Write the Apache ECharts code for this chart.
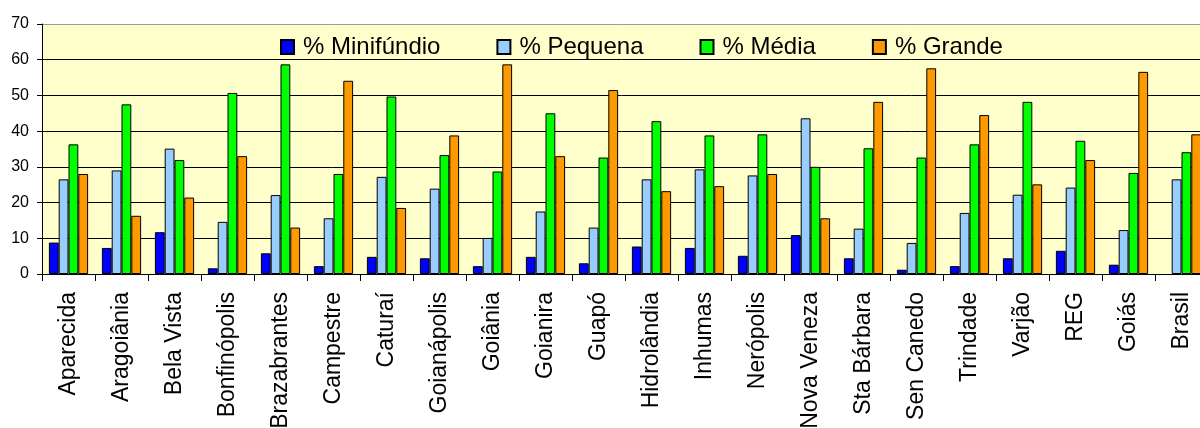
<!DOCTYPE html>
<html>
<head>
<meta charset="utf-8">
<script src="https://cdn.jsdelivr.net/npm/echarts@6/dist/echarts.min.js"></script>
<style>
html,body{margin:0;padding:0;background:#fff;}
#chart{width:1200px;height:428px;}
</style>
</head>
<body>
<div id="chart"></div>
<script>
const categories = ["Aparecida","Aragoiânia","Bela Vista","Bonfinópolis","Brazabrantes","Campestre","Caturaí","Goianápolis","Goiânia","Goianira","Guapó","Hidrolândia","Inhumas","Nerópolis","Nova Veneza","Sta Bárbara","Sen Canedo","Trindade","Varjão","REG","Goiás","Brasil"];
const minifundio = [8.8, 7.3, 11.7, 1.6, 5.8, 2.2, 4.8, 4.4, 2.2, 4.8, 3.0, 7.7, 7.3, 5.1, 10.9, 4.4, 1.2, 2.2, 4.4, 6.5, 2.6, null];
const pequena    = [26.5, 29.0, 35.1, 14.6, 22.1, 15.6, 27.2, 23.9, 10.1, 17.5, 13.0, 26.5, 29.3, 27.6, 43.6, 12.7, 8.7, 17.1, 22.2, 24.2, 12.3, 26.5];
const media      = [36.3, 47.5, 31.9, 50.7, 58.7, 28.0, 49.7, 33.3, 28.7, 45.0, 32.6, 42.8, 38.8, 39.1, 30.0, 35.2, 32.6, 36.3, 48.2, 37.3, 28.3, 34.1];
const grande     = [28.0, 16.3, 21.4, 33.0, 13.0, 54.1, 18.5, 38.8, 58.7, 33.0, 51.5, 23.2, 24.6, 28.0, 15.6, 48.2, 57.6, 44.5, 25.1, 31.9, 56.6, 39.1];
const seriesNames = ["% Minifúndio", "% Pequena", "% Média", "% Grande"];
const yTicks = [0, 10, 20, 30, 40, 50, 60, 70];

const colors = ['#0000FF', '#99CCFF', '#00FF00', '#FF9900'];
const dataSets = [minifundio, pequena, media, grande];
const font = '"Liberation Sans", Arial, sans-serif';

const chart = echarts.init(document.getElementById('chart'), null, {renderer: 'canvas'});
chart.setOption({
  animation: false,
  backgroundColor: '#ffffff',
  legend: {
    left: 280,
    top: 35,
    padding: 0,
    itemWidth: 13,
    itemHeight: 14,
    itemGap: 56,
    textStyle: {fontFamily: font, fontSize: 24, color: '#000', padding: [0, 0, 0, 4]},
    icon: 'rect',
    data: seriesNames
  },
  grid: {
    left: 42, top: 24, bottom: 154, right: -8,
    outerBoundsMode: 'none',
    containLabel: false,
    show: true, backgroundColor: '#FFFFCC', borderWidth: 0
  },
  xAxis: {
    type: 'category',
    data: categories,
    axisLine: {lineStyle: {color: '#000', width: 1}},
    axisTick: {show: true, length: 7, lineStyle: {color: '#000'}},
    axisLabel: {rotate: 90, margin: 18, fontFamily: font, fontSize: 23, color: '#000', interval: 0}
  },
  yAxis: {
    type: 'value',
    min: yTicks[0], max: yTicks[yTicks.length - 1], interval: 10,
    axisLine: {show: true, lineStyle: {color: '#000', width: 1}},
    axisTick: {show: true, length: 5, lineStyle: {color: '#000'}},
    axisLabel: {margin: 13, fontFamily: font, fontSize: 16, color: '#000'},
    splitLine: {show: true, lineStyle: {color: ['#000','#000','#000','#000','#000','#000','#000','#999'], width: 1}}
  },
  series: seriesNames.map((name, i) => ({
    name: name,
    type: 'bar',
    data: dataSets[i],
    barGap: '0%',
    barCategoryGap: '26%',
    itemStyle: {color: colors[i], borderColor: '#000', borderWidth: 1}
  }))
});
</script>
</body>
</html>
